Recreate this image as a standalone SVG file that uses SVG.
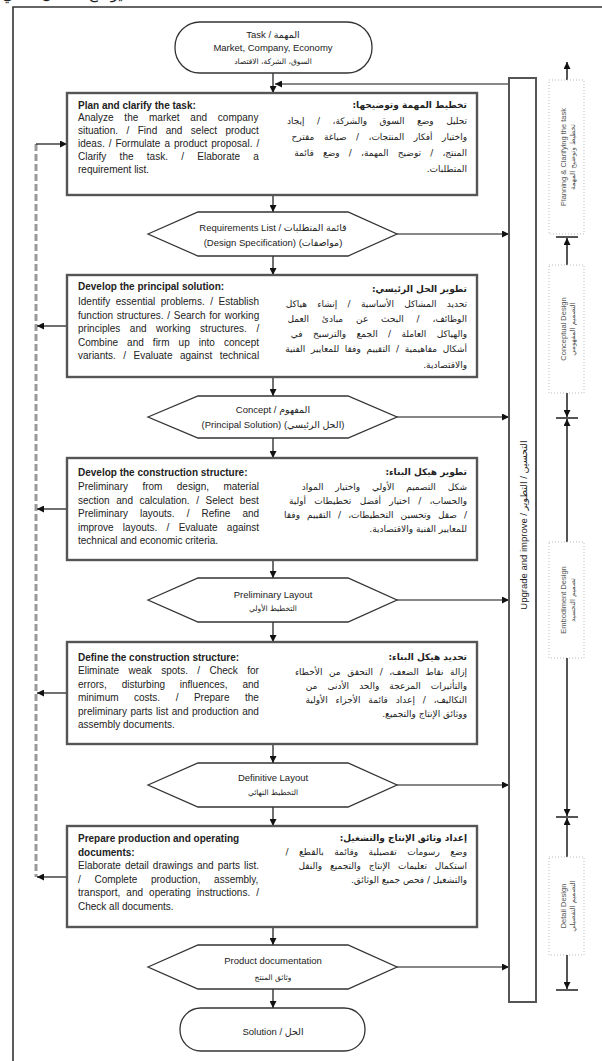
<svg xmlns="http://www.w3.org/2000/svg" width="602" height="1061" viewBox="0 0 602 1061">
<style>
.frame{fill:none;stroke:#333;stroke-width:1.6}
.box{fill:#fff;stroke:#555;stroke-width:2.4}
.hex{fill:#fff;stroke:#333;stroke-width:1.3}
.term{fill:#fff;stroke:#333;stroke-width:1.3}
.up{fill:#fff;stroke:#555;stroke-width:2}
.ph{fill:#fff;stroke:#bbb;stroke-width:1;stroke-dasharray:1 2}
.conn{fill:none;stroke:#111;stroke-width:1.2}
.dash{fill:none;stroke:#999;stroke-width:3;stroke-dasharray:7 3}
.pl{fill:none;stroke:#555;stroke-width:2}
.bar{fill:none;stroke:#555;stroke-width:2}
.en{font-family:"Liberation Sans",Arial,"DejaVu Sans",sans-serif;font-size:10px;fill:#222}
.b{font-weight:bold}
.ar{font-family:"DejaVu Sans",sans-serif;font-size:9px;fill:#222;direction:rtl;text-anchor:start}
.arb{font-weight:bold}
.hx{font-family:"Liberation Sans",Arial,"DejaVu Sans",sans-serif;font-size:9.5px;fill:#222;text-anchor:middle}
.hxa{font-family:"DejaVu Sans",sans-serif;font-size:7.5px;fill:#222;text-anchor:middle}
.pt{font-family:"Liberation Sans",Arial,"DejaVu Sans",sans-serif;font-size:7.5px;fill:#555;text-anchor:middle}
.pta{font-family:"DejaVu Sans",sans-serif;font-size:7px;fill:#555;text-anchor:middle}
</style>
<defs>
<marker id="ah" markerWidth="7" markerHeight="7" refX="7" refY="3.5" orient="auto" markerUnits="userSpaceOnUse">
<path d="M0,0 L7,3.5 L0,7 z" fill="#111"/>
</marker>
</defs>

<text x="2" y="-1" font-family="DejaVu Sans, sans-serif" font-size="15" fill="#222">يوضح الشكل التالي</text>

<g id="frame">
<path class="frame" d="M13,1061 L13,7 L602,7"/>
</g>

<g id="connectors">
<line class="conn" x1="273" y1="73" x2="273" y2="93" marker-end="url(#ah)"/>
<line class="conn" x1="509" y1="84" x2="275" y2="84" marker-end="url(#ah)"/>
<line class="conn" x1="273" y1="195" x2="273" y2="212" marker-end="url(#ah)"/>
<line class="conn" x1="273" y1="256" x2="273" y2="275" marker-end="url(#ah)"/>
<line class="conn" x1="273" y1="377" x2="273" y2="396" marker-end="url(#ah)"/>
<line class="conn" x1="273" y1="438" x2="273" y2="458" marker-end="url(#ah)"/>
<line class="conn" x1="273" y1="560" x2="273" y2="578" marker-end="url(#ah)"/>
<line class="conn" x1="273" y1="622" x2="273" y2="642" marker-end="url(#ah)"/>
<line class="conn" x1="273" y1="744" x2="273" y2="763" marker-end="url(#ah)"/>
<line class="conn" x1="273" y1="807" x2="273" y2="826" marker-end="url(#ah)"/>
<line class="conn" x1="273" y1="927" x2="273" y2="945" marker-end="url(#ah)"/>
<line class="conn" x1="273" y1="989" x2="273" y2="1008" marker-end="url(#ah)"/>
<line class="conn" x1="397" y1="234" x2="509" y2="234" marker-end="url(#ah)"/>
<line class="conn" x1="397" y1="417" x2="509" y2="417" marker-end="url(#ah)"/>
<line class="conn" x1="397" y1="600" x2="509" y2="600" marker-end="url(#ah)"/>
<line class="conn" x1="397" y1="785" x2="509" y2="785" marker-end="url(#ah)"/>
<line class="conn" x1="397" y1="967" x2="509" y2="967" marker-end="url(#ah)"/>
<line class="dash" x1="36" y1="144" x2="36" y2="877"/>
<line class="conn" x1="36" y1="144" x2="67" y2="144" marker-end="url(#ah)"/>
<line class="conn" x1="67" y1="326" x2="37" y2="326" marker-end="url(#ah)"/>
<line class="conn" x1="67" y1="509" x2="37" y2="509" marker-end="url(#ah)"/>
<line class="conn" x1="67" y1="693" x2="37" y2="693" marker-end="url(#ah)"/>
<line class="conn" x1="67" y1="877" x2="37" y2="877" marker-end="url(#ah)"/>
</g>

<g id="task">
<rect class="term" x="175" y="22" width="197" height="51" rx="25" ry="25"/>
<text class="hx" x="273" y="38" font-size="7.5">Task / المهمة</text>
<text class="hx" x="273" y="51">Market, Company, Economy</text>
<text class="hxa" x="273" y="64">السوق، الشركة، الاقتصاد</text>
</g>

<g id="box1">
<rect class="box" x="67" y="93" width="410" height="102"/>
<text class="en b" x="78" y="108.5">Plan and clarify the task:</text>
<text class="en" x="78" y="120.5" style="word-spacing:8px">Analyze the market and company</text>
<text class="en" x="78" y="133.5" style="word-spacing:5.7px">situation. / Find and select product</text>
<text class="en" x="78" y="146.5" style="word-spacing:1.2px">ideas. / Formulate a product proposal. /</text>
<text class="en" x="78" y="159.5" style="word-spacing:10.5px">Clarify the task. / Elaborate a</text>
<text class="en" x="78" y="172.5">requirement list.</text>
<text class="ar arb" x="467" y="108">تخطيط المهمة وتوضيحها:</text>
<text class="ar" x="467" y="124" style="word-spacing:9.6px">تحليل وضع السوق والشركة، / إيجاد</text>
<text class="ar" x="467" y="140" style="word-spacing:6.6px">واختيار أفكار المنتجات، / صياغة مقترح</text>
<text class="ar" x="467" y="156" style="word-spacing:6.3px">المنتج، / توضيح المهمة، / وضع قائمة</text>
<text class="ar" x="467" y="172">المتطلبات.</text>
</g>

<g id="req">
<polygon class="hex" points="148,234 198,212 348,212 397,234 348,256 198,256"/>
<text class="hx" x="273" y="231">Requirements List / قائمة المتطلبات</text>
<text class="hx" x="273" y="246">(Design Specification) (مواصفات)</text>
</g>

<g id="box2">
<rect class="box" x="67" y="275" width="410" height="102"/>
<text class="en b" x="78" y="289.5">Develop the principal solution:</text>
<text class="en" x="78" y="304.5" style="word-spacing:2.75px">Identify essential problems. / Establish</text>
<text class="en" x="78" y="318.5" style="word-spacing:1px">function structures. / Search for working</text>
<text class="en" x="78" y="332" style="word-spacing:6.8px">principles and working structures. /</text>
<text class="en" x="78" y="345.5" style="word-spacing:6.3px">Combine and firm up into concept</text>
<text class="en" x="78" y="359" style="word-spacing:4.7px">variants. / Evaluate against technical</text>
<text class="ar arb" x="467" y="292">تطوير الحل الرئيسي:</text>
<text class="ar" x="467" y="307" style="word-spacing:7.4px">تحديد المشاكل الأساسية / إنشاء هياكل</text>
<text class="ar" x="467" y="322" style="word-spacing:10px">الوظائف، / البحث عن مبادئ العمل</text>
<text class="ar" x="467" y="337" style="word-spacing:7.5px">والهياكل العاملة / الجمع والترسيخ في</text>
<text class="ar" x="467" y="352" style="word-spacing:2.8px">أشكال مفاهيمية / التقييم وفقا للمعايير الفنية</text>
<text class="ar" x="467" y="368">والاقتصادية.</text>
</g>

<g id="concept">
<polygon class="hex" points="148,417 198,396 348,396 397,417 348,438 198,438"/>
<text class="hx" x="273" y="413">Concept / المفهوم</text>
<text class="hx" x="273" y="428">(Principal Solution) (الحل الرئيسي)</text>
</g>

<g id="box3">
<rect class="box" x="67" y="458" width="410" height="102"/>
<text class="en b" x="78" y="475.5">Develop the construction structure:</text>
<text class="en" x="78" y="490" style="word-spacing:11.6px">Preliminary from design, material</text>
<text class="en" x="78" y="503.5" style="word-spacing:3.8px">section and calculation. / Select best</text>
<text class="en" x="78" y="517" style="word-spacing:9.3px">Preliminary layouts. / Refine and</text>
<text class="en" x="78" y="530.5" style="word-spacing:6.5px">improve layouts. / Evaluate against</text>
<text class="en" x="78" y="544">technical and economic criteria.</text>
<text class="ar arb" x="467" y="475">تطوير هيكل البناء:</text>
<text class="ar" x="467" y="490" style="word-spacing:9px">شكل التصميم الأولي واختيار المواد</text>
<text class="ar" x="467" y="504" style="word-spacing:5.4px">والحساب، / اختيار أفضل تخطيطات أولية</text>
<text class="ar" x="467" y="518" style="word-spacing:4.2px">/ صقل وتحسين التخطيطات، / التقييم وفقا</text>
<text class="ar" x="467" y="532">للمعايير الفنية والاقتصادية.</text>
</g>

<g id="prelim">
<polygon class="hex" points="148,600 198,578 348,578 397,600 348,622 198,622"/>
<text class="hx" x="273" y="598">Preliminary Layout</text>
<text class="hxa" x="273" y="611">التخطيط الأولي</text>
</g>

<g id="box4">
<rect class="box" x="67" y="642" width="410" height="102"/>
<text class="en b" x="78" y="660.5">Define the construction structure:</text>
<text class="en" x="78" y="674" style="word-spacing:6.6px">Eliminate weak spots. / Check for</text>
<text class="en" x="78" y="687.5" style="word-spacing:12px">errors, disturbing influences, and</text>
<text class="en" x="78" y="701" style="word-spacing:12.7px">minimum costs. / Prepare the</text>
<text class="en" x="78" y="714.5" style="word-spacing:0.7px">preliminary parts list and production and</text>
<text class="en" x="78" y="728">assembly documents.</text>
<text class="ar arb" x="467" y="660">تحديد هيكل البناء:</text>
<text class="ar" x="467" y="675" style="word-spacing:3.7px">إزالة نقاط الضعف، / التحقق من الأخطاء</text>
<text class="ar" x="467" y="689" style="word-spacing:7.2px">والتأثيرات المزعجة والحد الأدنى من</text>
<text class="ar" x="467" y="703" style="word-spacing:5px">التكاليف، / إعداد قائمة الأجزاء الأولية</text>
<text class="ar" x="467" y="717">ووثائق الإنتاج والتجميع.</text>
</g>

<g id="definitive">
<polygon class="hex" points="148,785 198,763 348,763 397,785 348,807 198,807"/>
<text class="hx" x="273" y="781">Definitive Layout</text>
<text class="hxa" x="273" y="795">التخطيط النهائي</text>
</g>

<g id="box5">
<rect class="box" x="67" y="826" width="410" height="101"/>
<text class="en b" x="78" y="841.5">Prepare production and operating</text>
<text class="en b" x="78" y="855.5">documents:</text>
<text class="en" x="78" y="869" style="word-spacing:1.3px">Elaborate detail drawings and parts list.</text>
<text class="en" x="78" y="882.5" style="word-spacing:10.9px">/ Complete production, assembly,</text>
<text class="en" x="78" y="896" style="word-spacing:3.3px">transport, and operating instructions. /</text>
<text class="en" x="78" y="909.5">Check all documents.</text>
<text class="ar arb" x="467" y="841">إعداد وثائق الإنتاج والتشغيل:</text>
<text class="ar" x="467" y="855" style="word-spacing:7.6px">وضع رسومات تفصيلية وقائمة بالقطع /</text>
<text class="ar" x="467" y="869" style="word-spacing:5px">استكمال تعليمات الإنتاج والتجميع والنقل</text>
<text class="ar" x="467" y="883">والتشغيل / فحص جميع الوثائق.</text>
</g>

<g id="productdoc">
<polygon class="hex" points="148,967 198,945 348,945 397,967 348,989 198,989"/>
<text class="hx" x="273" y="964">Product documentation</text>
<text class="hxa" x="273" y="980">وثائق المنتج</text>
</g>

<g id="solution">
<rect class="term" x="180" y="1008" width="185" height="43" rx="21" ry="21"/>
<text class="hx" x="273" y="1035" font-size="14">Solution / الحل</text>
</g>

<g id="upgrade">
<rect class="up" x="509" y="78" width="27" height="924"/>
<text class="hx" transform="translate(522.5,525) rotate(-90)" x="0" y="4.5" font-size="12.5">Upgrade and improve / التحسين / التطوير</text>
</g>

<g id="phases">
<line class="pl" x1="567" y1="80" x2="567" y2="62" marker-end="url(#ah)"/>
<rect class="ph" x="549" y="80" width="35" height="154"/>
<g transform="translate(567,157) rotate(-90)">
<text class="pt" x="0" y="-1.5">Planning &amp; Clarifying the task</text>
<text class="pta" x="0" y="8">تخطيط وتوضيح المهمة</text>
</g>
<line class="bar" x1="556" y1="237" x2="578" y2="237"/>
<line class="pl" x1="567" y1="265" x2="567" y2="238" marker-end="url(#ah)"/>
<rect class="ph" x="549" y="265" width="35" height="128"/>
<g transform="translate(567,329) rotate(-90)">
<text class="pt" x="0" y="-1.5">Conceptual Design</text>
<text class="pta" x="0" y="8">التصميم المفهومي</text>
</g>
<line class="pl" x1="567" y1="393" x2="567" y2="417" marker-end="url(#ah)"/>
<line class="bar" x1="556" y1="418" x2="578" y2="418"/>
<line class="pl" x1="567" y1="542" x2="567" y2="419" marker-end="url(#ah)"/>
<rect class="ph" x="549" y="542" width="35" height="116"/>
<g transform="translate(567,600) rotate(-90)">
<text class="pt" x="0" y="-1.5">Embodiment Design</text>
<text class="pta" x="0" y="8">تصميم التجسيد</text>
</g>
<line class="pl" x1="567" y1="658" x2="567" y2="816" marker-end="url(#ah)"/>
<line class="bar" x1="556" y1="817" x2="578" y2="817"/>
<line class="pl" x1="567" y1="857" x2="567" y2="818" marker-end="url(#ah)"/>
<rect class="ph" x="549" y="857" width="35" height="98"/>
<g transform="translate(567,906) rotate(-90)">
<text class="pt" x="0" y="-1.5">Detail Design</text>
<text class="pta" x="0" y="8">التصميم التفصيلي</text>
</g>
<line class="pl" x1="567" y1="955" x2="567" y2="989" marker-end="url(#ah)"/>
<line class="bar" x1="556" y1="990" x2="578" y2="990"/>
</g>
</svg>
